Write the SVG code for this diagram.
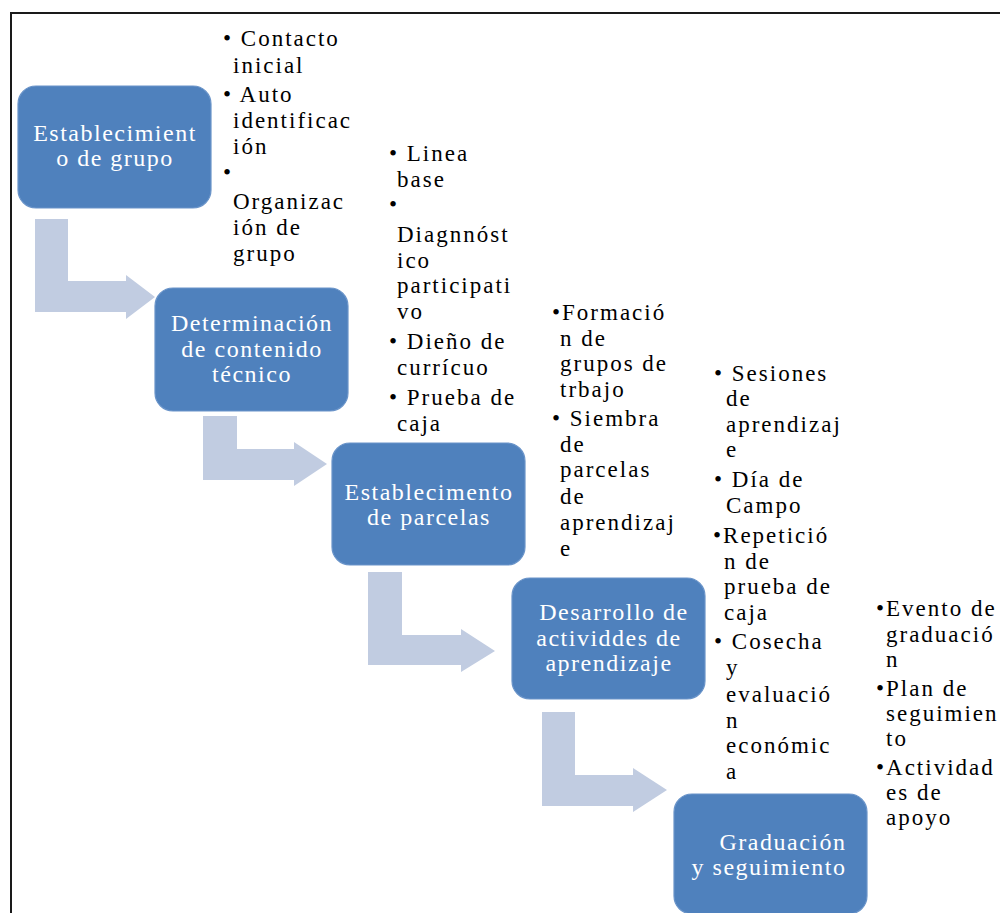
<svg xmlns="http://www.w3.org/2000/svg" width="1000" height="913" viewBox="0 0 1000 913">
<style>
.box{fill:#4f81bd;stroke:#6a94c9;stroke-width:1.2}
.bt{font-family:"Liberation Serif","Times New Roman",serif;font-size:24px;letter-spacing:1.5px;fill:#ffffff;text-anchor:middle}
.lt{font-family:"Liberation Serif","Times New Roman",serif;font-size:23px;letter-spacing:2px;fill:#000000}
.arr{fill:#c1cce1}
</style>
<rect x="0" y="0" width="1000" height="913" fill="#ffffff"/>
<path d="M11,913 V13 H1000" fill="none" stroke="#1a1a1a" stroke-width="2"/>
<g id="connectors">
<polygon class="arr" points="35,219 68,219 68,281 126,281 126,275 155,297 126,319 126,312 35,312"/>
<polygon class="arr" points="203,416 237,416 237,449 294,449 294,442 327,464 294,486 294,480 203,480"/>
<polygon class="arr" points="368,572 402,572 402,635 461,635 461,629 495,651 461,672 461,665 368,665"/>
<polygon class="arr" points="542,712 575,712 575,775 633,775 633,768 667,790 633,812 633,806 542,806"/>
</g>
<g id="node1">
<rect class="box" x="18" y="86" width="193" height="122" rx="18"/>
<text class="bt" x="115" y="141">Establecimient</text>
<text class="bt" x="115" y="166">o de grupo</text>
</g>
<g id="node2">
<rect class="box" x="155" y="288" width="193" height="123" rx="18"/>
<text class="bt" x="252" y="331">Determinación</text>
<text class="bt" x="252" y="357">de contenido</text>
<text class="bt" x="252" y="382">técnico</text>
</g>
<g id="node3">
<rect class="box" x="332" y="443" width="193" height="122" rx="18"/>
<text class="bt" x="429" y="500">Establecimento</text>
<text class="bt" x="429" y="525">de parcelas</text>
</g>
<g id="node4">
<rect class="box" x="512" y="578" width="193" height="121" rx="18"/>
<text class="bt" x="614" y="620">Desarrollo de</text>
<text class="bt" x="609" y="646">actividdes de</text>
<text class="bt" x="609" y="671">aprendizaje</text>
</g>
<g id="node5">
<rect class="box" x="674" y="794" width="193" height="120" rx="18"/>
<text class="bt" x="783" y="850">Graduación</text>
<text class="bt" x="769" y="875">y seguimiento</text>
</g>
<g id="list1">
<text class="lt" x="223" y="46">• Contacto</text>
<text class="lt" x="233" y="73">inicial</text>
<text class="lt" x="223" y="102">• Auto</text>
<text class="lt" x="233" y="128">identificac</text>
<text class="lt" x="233" y="154">ión</text>
<text class="lt" x="223" y="180">•</text>
<text class="lt" x="233" y="209">Organizac</text>
<text class="lt" x="233" y="235">ión de</text>
<text class="lt" x="233" y="261">grupo</text>
</g>
<g id="list2">
<text class="lt" x="389" y="161">• Linea</text>
<text class="lt" x="397" y="187">base</text>
<text class="lt" x="389" y="212">•</text>
<text class="lt" x="397" y="242">Diagnnóst</text>
<text class="lt" x="397" y="268">ico</text>
<text class="lt" x="397" y="293">participati</text>
<text class="lt" x="397" y="319">vo</text>
<text class="lt" x="389" y="349">• Dieño de</text>
<text class="lt" x="397" y="375">currícuo</text>
<text class="lt" x="389" y="405">• Prueba de</text>
<text class="lt" x="397" y="431">caja</text>
</g>
<g id="list3">
<text class="lt" x="552" y="320">•Formació</text>
<text class="lt" x="560" y="346">n de</text>
<text class="lt" x="560" y="371">grupos de</text>
<text class="lt" x="560" y="397">trbajo</text>
<text class="lt" x="552" y="426">• Siembra</text>
<text class="lt" x="560" y="452">de</text>
<text class="lt" x="560" y="477">parcelas</text>
<text class="lt" x="560" y="504">de</text>
<text class="lt" x="560" y="530">aprendizaj</text>
<text class="lt" x="560" y="556">e</text>
</g>
<g id="list4">
<text class="lt" x="714" y="381">• Sesiones</text>
<text class="lt" x="726" y="406">de</text>
<text class="lt" x="726" y="432">aprendizaj</text>
<text class="lt" x="726" y="457">e</text>
<text class="lt" x="714" y="487">• Día de</text>
<text class="lt" x="726" y="513">Campo</text>
<text class="lt" x="713" y="543">•Repetició</text>
<text class="lt" x="724" y="569">n de</text>
<text class="lt" x="724" y="594">prueba de</text>
<text class="lt" x="724" y="620">caja</text>
<text class="lt" x="714" y="649">• Cosecha</text>
<text class="lt" x="726" y="675">y</text>
<text class="lt" x="726" y="702">evaluació</text>
<text class="lt" x="726" y="728">n</text>
<text class="lt" x="726" y="753">económic</text>
<text class="lt" x="726" y="779">a</text>
</g>
<g id="list5">
<text class="lt" x="876" y="616">•Evento de</text>
<text class="lt" x="886" y="642">graduació</text>
<text class="lt" x="886" y="667">n</text>
<text class="lt" x="876" y="696">•Plan de</text>
<text class="lt" x="886" y="721">seguimien</text>
<text class="lt" x="886" y="746">to</text>
<text class="lt" x="876" y="775">•Actividad</text>
<text class="lt" x="886" y="800">es de</text>
<text class="lt" x="886" y="825">apoyo</text>
</g>
</svg>
